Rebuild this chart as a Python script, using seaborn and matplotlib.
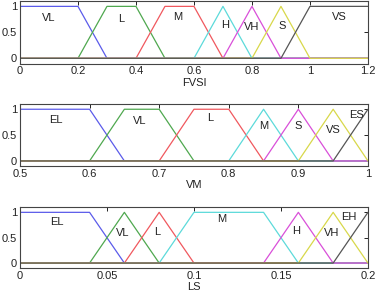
import numpy as np
import pandas as pd
import matplotlib
matplotlib.use("Agg")
import matplotlib.pyplot as plt
import seaborn as sns

# --- membership function data (parameters of each fuzzy set) ---
fvsi_names = ['VL', 'L', 'M', 'H', 'VH', 'S', 'VS']
fvsi_params = [[0, 0, 0.2, 0.3], [0.2, 0.3, 0.4, 0.5], [0.4, 0.5, 0.6, 0.7],
               [0.6, 0.7, 0.7, 0.8], [0.7, 0.8, 0.8, 0.9], [0.8, 0.9, 0.9, 1.0],
               [0.9, 1.0, 1.2, 1.2]]
fvsi_range = [0, 1.2]
fvsi_ticks = [0, 0.2, 0.4, 0.6, 0.8, 1, 1.2]

vm_names = ['EL', 'VL', 'L', 'M', 'S', 'VS', 'ES']
vm_params = [[0.5, 0.5, 0.6, 0.65], [0.6, 0.65, 0.7, 0.75], [0.7, 0.75, 0.8, 0.85],
             [0.8, 0.85, 0.85, 0.9], [0.85, 0.9, 0.9, 0.95], [0.9, 0.95, 0.95, 1.0],
             [0.95, 1.0, 1.0, 1.0]]
vm_range = [0.5, 1.0]
vm_ticks = [0.5, 0.6, 0.7, 0.8, 0.9, 1]

ls_names = ['EL', 'VL', 'L', 'M', 'H', 'VH', 'EH']
ls_params = [[0, 0, 0.04, 0.06], [0.04, 0.06, 0.06, 0.08], [0.06, 0.08, 0.08, 0.1],
             [0.08, 0.1, 0.14, 0.16], [0.14, 0.16, 0.16, 0.18], [0.16, 0.18, 0.18, 0.2],
             [0.18, 0.2, 0.2, 0.2]]
ls_range = [0, 0.2]
ls_ticks = [0, 0.05, 0.1, 0.15, 0.2]

# label placement (x in data units, y in membership units)
fvsi_label_pos = [(0.1, 0.77), (0.35, 0.75), (0.545, 0.8), (0.707, 0.65),
                  (0.8, 0.6), (0.905, 0.62), (1.1, 0.8)]
vm_label_pos = [(0.552, 0.8), (0.672, 0.78), (0.773, 0.83), (0.85, 0.67),
                (0.9, 0.68), (0.95, 0.6), (0.984, 0.88)]
ls_label_pos = [(0.021, 0.8), (0.059, 0.6), (0.079, 0.62), (0.116, 0.86),
                (0.159, 0.64), (0.179, 0.6), (0.189, 0.9)]

colors = ['#5b5bea', '#4fa84f', '#f0585e', '#5cdada', '#d94fd9', '#d8d84a', '#555555']


def mf_curve(params, lo, hi):
    # trapezoidal membership (triangles have b == c), evaluated over the full range
    a, b, c, d = params
    xs = np.linspace(lo, hi, 1201)
    y = np.zeros_like(xs)
    if b > a:
        m = (xs >= a) & (xs <= b)
        y[m] = (xs[m] - a) / (b - a)
    y[(xs >= b) & (xs <= c)] = 1.0
    if d > c:
        m = (xs >= c) & (xs <= d)
        y[m] = (d - xs[m]) / (d - c)
    return xs, y


sns.set_style("white")
plt.rcParams['font.family'] = ['Liberation Sans', 'DejaVu Sans']

fig = plt.figure(figsize=(3.77, 2.94), dpi=100)
boxes = [[0.053, 0.784, 0.923, 0.212],
         [0.053, 0.435, 0.923, 0.211],
         [0.053, 0.088, 0.923, 0.207]]
panels = [(fvsi_names, fvsi_params, fvsi_range, fvsi_ticks, fvsi_label_pos, 'FVSI'),
          (vm_names, vm_params, vm_range, vm_ticks, vm_label_pos, 'VM'),
          (ls_names, ls_params, ls_range, ls_ticks, ls_label_pos, 'LS')]

for box, (names, params, rng, ticks, lpos, xlabel) in zip(boxes, panels):
    ax = fig.add_axes(box)
    for i, (name, p) in enumerate(zip(names, params)):
        xs, ys = mf_curve(p, rng[0], rng[1])
        df = pd.DataFrame({'x': xs, 'mu': ys})
        sns.lineplot(data=df, x='x', y='mu', color=colors[i], lw=0.9, ax=ax)
        ax.text(lpos[i][0], lpos[i][1], name, ha='center', va='center',
                fontsize=8, color='#222222')
    ax.set_xlim(rng)
    ax.set_ylim(-0.1, 1.1)
    ax.set_xticks(ticks)
    ax.set_xticklabels([f'{t:g}' for t in ticks])
    ax.set_yticks([0, 0.5, 1])
    ax.set_yticklabels(['0', '0.5', '1'])
    ax.tick_params(direction='in', length=3, width=0.7, labelsize=8,
                   top=True, right=True, pad=2, colors='#222222')
    ax.set_xlabel(xlabel, fontsize=8, labelpad=1, color='#222222')
    ax.set_ylabel('')
    for s in ax.spines.values():
        s.set_color('#444444')
        s.set_linewidth(0.8)

fig.savefig('out.png', dpi=100)
